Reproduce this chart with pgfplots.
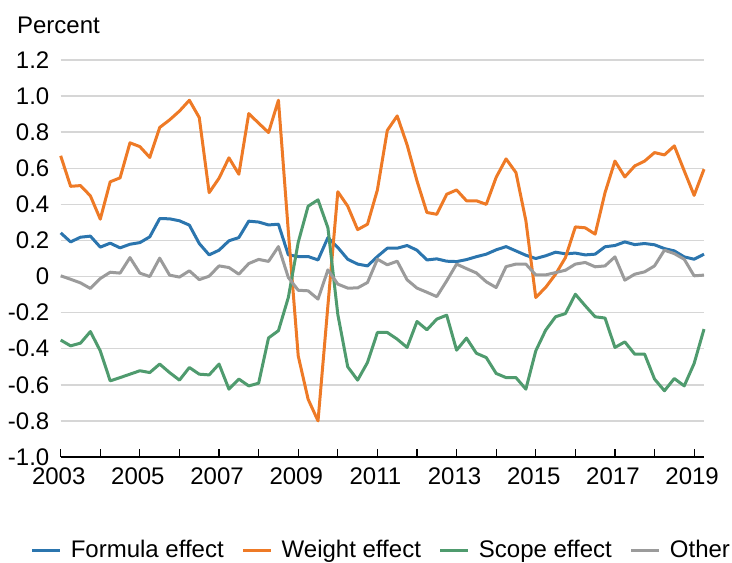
\documentclass[border=0pt]{standalone}
\usepackage{pgfplots}
\pgfplotsset{compat=1.18}
\usepackage{pgfplotstable}
\usepackage{fontspec}
\setmainfont{Liberation Sans}
\definecolor{cform}{HTML}{2B75AE}
\definecolor{cweight}{HTML}{EE7A26}
\definecolor{cscope}{HTML}{4F9B6E}
\definecolor{cother}{HTML}{9B9B9B}
\pgfplotstableread{
x f w s o
2003.00 0.242 0.669 -0.352 0.004
2003.25 0.192 0.500 -0.384 -0.015
2003.50 0.218 0.504 -0.369 -0.035
2003.75 0.224 0.447 -0.305 -0.066
2004.00 0.163 0.318 -0.412 -0.011
2004.25 0.185 0.525 -0.578 0.024
2004.50 0.159 0.547 -0.560 0.019
2004.75 0.179 0.741 -0.541 0.105
2005.00 0.188 0.720 -0.522 0.019
2005.25 0.220 0.660 -0.532 0.000
2005.50 0.321 0.826 -0.485 0.102
2005.75 0.320 0.868 -0.532 0.008
2006.00 0.309 0.917 -0.574 -0.003
2006.25 0.285 0.977 -0.504 0.032
2006.50 0.183 0.881 -0.541 -0.017
2006.75 0.120 0.465 -0.545 0.002
2007.00 0.146 0.545 -0.485 0.059
2007.25 0.198 0.658 -0.624 0.050
2007.50 0.216 0.567 -0.568 0.013
2007.75 0.307 0.903 -0.606 0.072
2008.00 0.302 0.850 -0.591 0.095
2008.25 0.286 0.798 -0.340 0.084
2008.50 0.290 0.977 -0.300 0.166
2008.75 0.120 0.250 -0.116 -0.005
2009.00 0.111 -0.440 0.190 -0.076
2009.25 0.111 -0.680 0.390 -0.079
2009.50 0.092 -0.800 0.425 -0.125
2009.75 0.216 -0.160 0.270 0.037
2010.00 0.161 0.470 -0.210 -0.042
2010.25 0.096 0.390 -0.500 -0.064
2010.50 0.069 0.260 -0.574 -0.063
2010.75 0.059 0.290 -0.476 -0.033
2011.00 0.111 0.480 -0.310 0.096
2011.25 0.157 0.810 -0.310 0.065
2011.50 0.157 0.890 -0.347 0.085
2011.75 0.172 0.730 -0.393 -0.018
2012.00 0.146 0.530 -0.249 -0.064
2012.25 0.092 0.355 -0.295 -0.087
2012.50 0.098 0.345 -0.236 -0.111
2012.75 0.085 0.456 -0.214 -0.024
2013.00 0.083 0.480 -0.408 0.069
2013.25 0.094 0.420 -0.341 0.044
2013.50 0.110 0.420 -0.425 0.020
2013.75 0.124 0.400 -0.449 -0.029
2014.00 0.148 0.550 -0.537 -0.061
2014.25 0.166 0.652 -0.560 0.055
2014.50 0.142 0.576 -0.560 0.069
2014.75 0.118 0.310 -0.624 0.069
2015.00 0.100 -0.116 -0.412 0.009
2015.25 0.115 -0.060 -0.297 0.009
2015.50 0.135 0.013 -0.223 0.022
2015.75 0.126 0.105 -0.205 0.035
2016.00 0.130 0.275 -0.098 0.069
2016.25 0.120 0.270 -0.162 0.078
2016.50 0.124 0.235 -0.223 0.054
2016.75 0.165 0.465 -0.230 0.059
2017.00 0.172 0.640 -0.393 0.109
2017.25 0.192 0.552 -0.362 -0.020
2017.50 0.177 0.613 -0.430 0.013
2017.75 0.183 0.640 -0.430 0.026
2018.00 0.176 0.687 -0.568 0.059
2018.25 0.155 0.674 -0.633 0.146
2018.50 0.142 0.724 -0.565 0.127
2018.75 0.109 0.586 -0.606 0.096
2019.00 0.096 0.450 -0.482 0.004
2019.25 0.124 0.595 -0.291 0.008
}\datatable
\newcommand{\chartfont}{\fontsize{12}{14}\selectfont}
\begin{document}
\begin{tikzpicture}
\useasboundingbox (-30.35pt,-52.5pt) rectangle (335.65pt,228.5pt);
\begin{axis}[
  at={(0,0)}, anchor=south west,
  scale only axis,
  width=321.65pt, height=198.5pt,
  xmin=2003, xmax=2019.25,
  ymin=-1, ymax=1.2,
  axis x line*=bottom, axis y line*=left,
  separate axis lines,
  x axis line style={black, line width=0.6pt},
  y axis line style={draw=none},
  xtick={2003,2005,...,2019},
  xticklabels={2003,2005,2007,2009,2011,2013,2015,2017,2019},
  minor xtick={2004,2006,...,2018},
  tick align=inside,
  major tick length=4pt, minor tick length=4pt,
  x tick style={black, line width=0.6pt},
  ytick={-1,-0.8,-0.6,-0.4,-0.2,0,0.2,0.4,0.6,0.8,1.0,1.2},
  yticklabels={-1.0,-0.8,-0.6,-0.4,-0.2,0,0.2,0.4,0.6,0.8,1.0,1.2},
  y tick style={draw=none},
  ymajorgrids,
  major grid style={draw=black!16, line width=0.7pt},
  yticklabel style={font=\chartfont, anchor=east, inner sep=0pt, xshift=-5.5pt},
  xticklabel style={font=\chartfont, anchor=north, inner sep=0pt, yshift=-5pt, xshift=-1pt},
  legend columns=4,
  legend style={draw=none, fill=none, at={(0.5,-0.236)}, anchor=center, font=\chartfont,
    /tikz/every odd column/.append style={column sep=2.5pt},
    /tikz/every even column/.append style={column sep=7pt}},
  legend image code/.code={\draw[#1, line width=1.5pt] (0pt,0pt) -- (14pt,0pt);},
  every axis plot/.append style={line width=1.5pt, line join=round},
  clip=false,
]
\addplot[cform] table[x=x, y=f] {\datatable};
\addlegendentry{Formula effect}
\addplot[cweight] table[x=x, y=w] {\datatable};
\addlegendentry{Weight effect}
\addplot[cscope] table[x=x, y=s] {\datatable};
\addlegendentry{Scope effect}
\addplot[cother] table[x=x, y=o] {\datatable};
\addlegendentry{Other}
\node[anchor=west, font=\chartfont, inner sep=0pt] at (rel axis cs:0,1) [xshift=-22pt, yshift=17.5pt] {Percent};
\end{axis}
\end{tikzpicture}
\end{document}
